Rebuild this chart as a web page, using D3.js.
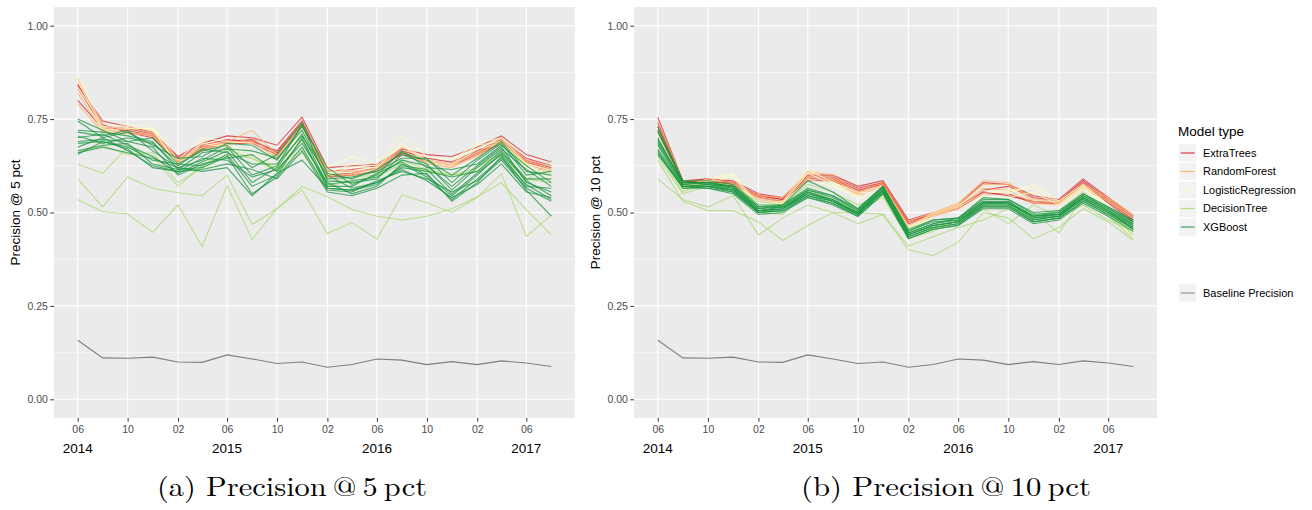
<!DOCTYPE html>
<html>
<head>
<meta charset="utf-8">
<script src="https://cdn.jsdelivr.net/npm/d3@7"></script>
<style>
  body { margin: 0; background: #fff; }
  svg text { font-family: "Liberation Sans", Arial, sans-serif; }
</style>
</head>
<body>
<script>
// evaluation months (one point every two months)
const months = ["2014-06","2014-08","2014-10","2014-12","2015-02","2015-04","2015-06","2015-08","2015-10","2015-12",
                "2016-02","2016-04","2016-06","2016-08","2016-10","2016-12","2017-02","2017-04","2017-06","2017-08"];
const tickMonths = ["2014-06","2014-10","2015-02","2015-06","2015-10","2016-02","2016-06","2016-10","2017-02","2017-06"];
const yearLabels = ["2014","2015","2016","2017"];
const yTicks = [0, 0.25, 0.5, 0.75, 1];
const yMinor = [0.125, 0.375, 0.625, 0.875];

const modelTypes = ["ExtraTrees","RandomForest","LogisticRegression","DecisionTree","XGBoost"];
const modelColours = ["#d7191c","#fdae61","#ffffbf","#a6d96a","#1a9641"];

const baseline = [0.158,0.111,0.110,0.113,0.100,0.099,0.119,0.108,0.096,0.100,0.086,0.093,0.108,0.105,0.093,0.101,0.093,0.103,0.097,0.088];

// Precision @ 5 pct
const p5ExtraTrees = [
  [0.84,0.745,0.73,0.715,0.65,0.685,0.705,0.70,0.68,0.755,0.62,0.625,0.63,0.67,0.655,0.65,0.675,0.705,0.655,0.635],
  [0.83,0.73,0.725,0.71,0.645,0.68,0.695,0.69,0.665,0.745,0.61,0.615,0.625,0.665,0.645,0.635,0.665,0.695,0.645,0.625],
  [0.80,0.725,0.72,0.705,0.64,0.675,0.69,0.695,0.66,0.74,0.60,0.605,0.62,0.655,0.64,0.63,0.66,0.69,0.64,0.62],
  [0.845,0.735,0.715,0.70,0.635,0.67,0.685,0.685,0.655,0.735,0.595,0.60,0.61,0.66,0.635,0.625,0.655,0.685,0.635,0.615]
];
const p5RandomForest = [
  [0.86,0.72,0.725,0.715,0.635,0.675,0.69,0.72,0.655,0.74,0.61,0.61,0.615,0.675,0.64,0.63,0.66,0.70,0.64,0.625],
  [0.79,0.715,0.71,0.71,0.63,0.665,0.68,0.70,0.65,0.735,0.60,0.60,0.61,0.665,0.63,0.62,0.655,0.69,0.63,0.61],
  [0.82,0.72,0.715,0.705,0.64,0.67,0.685,0.69,0.645,0.73,0.595,0.605,0.62,0.66,0.635,0.625,0.65,0.695,0.635,0.60]
];
const p5LogisticRegression = [
  [0.865,0.73,0.735,0.73,0.64,0.70,0.69,0.685,0.62,0.72,0.62,0.65,0.63,0.705,0.65,0.64,0.685,0.70,0.63,0.615],
  [0.85,0.725,0.73,0.72,0.63,0.69,0.68,0.66,0.615,0.70,0.605,0.63,0.625,0.685,0.64,0.63,0.68,0.69,0.625,0.60],
  [0.83,0.72,0.725,0.725,0.625,0.685,0.675,0.645,0.61,0.69,0.60,0.62,0.62,0.68,0.635,0.625,0.67,0.685,0.62,0.59]
];
const p5DecisionTree = [
  [0.63,0.605,0.675,0.65,0.57,0.625,0.67,0.645,0.61,0.66,0.58,0.595,0.60,0.64,0.615,0.60,0.62,0.66,0.59,0.58],
  [0.59,0.515,0.595,0.565,0.553,0.545,0.60,0.468,0.51,0.57,0.542,0.508,0.49,0.48,0.49,0.51,0.542,0.58,0.507,0.44],
  [0.535,0.502,0.496,0.447,0.52,0.409,0.572,0.428,0.511,0.56,0.444,0.473,0.429,0.547,0.526,0.50,0.54,0.604,0.436,0.493],
  [0.66,0.68,0.655,0.66,0.58,0.62,0.655,0.645,0.62,0.67,0.57,0.585,0.595,0.63,0.61,0.60,0.61,0.655,0.585,0.64]
];
const p5XGBoost = [
  [0.75,0.72,0.69,0.70,0.63,0.665,0.68,0.62,0.655,0.74,0.605,0.59,0.615,0.66,0.64,0.60,0.645,0.69,0.61,0.60],
  [0.745,0.70,0.715,0.68,0.645,0.65,0.685,0.68,0.64,0.73,0.62,0.575,0.60,0.665,0.62,0.615,0.63,0.68,0.625,0.58],
  [0.72,0.715,0.705,0.69,0.615,0.66,0.67,0.665,0.645,0.72,0.59,0.595,0.61,0.645,0.645,0.58,0.64,0.685,0.60,0.61],
  [0.715,0.705,0.72,0.665,0.62,0.64,0.675,0.60,0.625,0.735,0.585,0.58,0.59,0.655,0.63,0.56,0.62,0.67,0.615,0.57],
  [0.705,0.685,0.70,0.685,0.625,0.67,0.66,0.63,0.63,0.705,0.60,0.565,0.58,0.62,0.61,0.595,0.61,0.665,0.59,0.59],
  [0.70,0.71,0.68,0.65,0.605,0.635,0.665,0.58,0.62,0.71,0.575,0.585,0.595,0.64,0.625,0.57,0.625,0.675,0.58,0.555],
  [0.69,0.695,0.69,0.675,0.60,0.63,0.645,0.655,0.61,0.695,0.57,0.57,0.605,0.635,0.60,0.545,0.60,0.66,0.585,0.545],
  [0.685,0.69,0.675,0.64,0.63,0.625,0.655,0.57,0.60,0.70,0.565,0.56,0.575,0.625,0.615,0.55,0.605,0.655,0.57,0.565],
  [0.675,0.70,0.665,0.625,0.61,0.645,0.64,0.595,0.615,0.685,0.58,0.55,0.57,0.63,0.595,0.535,0.59,0.645,0.575,0.535],
  [0.665,0.68,0.685,0.63,0.615,0.62,0.65,0.55,0.595,0.675,0.56,0.555,0.585,0.61,0.59,0.555,0.585,0.64,0.565,0.53],
  [0.655,0.69,0.67,0.62,0.61,0.615,0.63,0.615,0.59,0.665,0.555,0.545,0.565,0.60,0.605,0.53,0.58,0.65,0.56,0.49],
  [0.66,0.675,0.66,0.645,0.62,0.61,0.62,0.545,0.605,0.64,0.565,0.56,0.58,0.615,0.585,0.54,0.575,0.63,0.555,0.54]
];

// Precision @ 10 pct
const p10ExtraTrees = [
  [0.755,0.585,0.59,0.585,0.55,0.54,0.60,0.60,0.57,0.585,0.48,0.50,0.52,0.58,0.575,0.545,0.535,0.59,0.54,0.49],
  [0.73,0.58,0.59,0.58,0.545,0.535,0.595,0.595,0.565,0.58,0.475,0.495,0.515,0.56,0.57,0.54,0.53,0.585,0.535,0.485],
  [0.72,0.58,0.585,0.575,0.54,0.53,0.59,0.59,0.56,0.575,0.47,0.49,0.51,0.555,0.545,0.53,0.525,0.58,0.53,0.48],
  [0.74,0.585,0.58,0.58,0.545,0.535,0.585,0.585,0.555,0.58,0.475,0.495,0.51,0.55,0.55,0.525,0.525,0.575,0.525,0.475]
];
const p10RandomForest = [
  [0.745,0.585,0.585,0.58,0.545,0.54,0.61,0.60,0.555,0.58,0.475,0.50,0.525,0.585,0.58,0.535,0.53,0.575,0.54,0.495],
  [0.715,0.575,0.58,0.575,0.54,0.53,0.605,0.59,0.55,0.575,0.465,0.495,0.52,0.575,0.575,0.53,0.525,0.57,0.535,0.49],
  [0.70,0.575,0.575,0.57,0.535,0.525,0.595,0.585,0.545,0.57,0.46,0.49,0.515,0.565,0.56,0.525,0.52,0.565,0.53,0.485]
];
const p10LogisticRegression = [
  [0.70,0.57,0.59,0.605,0.52,0.53,0.615,0.58,0.555,0.55,0.46,0.50,0.52,0.56,0.55,0.575,0.53,0.575,0.52,0.45],
  [0.68,0.565,0.585,0.60,0.515,0.525,0.605,0.575,0.545,0.545,0.455,0.495,0.515,0.55,0.56,0.565,0.525,0.57,0.51,0.44],
  [0.665,0.56,0.58,0.595,0.51,0.515,0.59,0.57,0.54,0.535,0.45,0.49,0.51,0.545,0.54,0.555,0.52,0.565,0.505,0.43]
];
const p10DecisionTree = [
  [0.59,0.535,0.515,0.545,0.44,0.485,0.52,0.50,0.50,0.495,0.40,0.385,0.42,0.50,0.485,0.43,0.46,0.51,0.475,0.425],
  [0.64,0.53,0.505,0.505,0.475,0.425,0.465,0.50,0.47,0.495,0.41,0.435,0.46,0.48,0.51,0.50,0.445,0.54,0.49,0.43],
  [0.66,0.555,0.58,0.57,0.50,0.495,0.56,0.535,0.505,0.54,0.43,0.45,0.48,0.51,0.47,0.52,0.49,0.52,0.48,0.45],
  [0.65,0.55,0.57,0.565,0.53,0.52,0.575,0.555,0.52,0.55,0.445,0.46,0.475,0.52,0.52,0.49,0.505,0.555,0.50,0.44]
];
const p10XGBoost = [
  [0.73,0.585,0.585,0.575,0.52,0.52,0.565,0.545,0.51,0.57,0.455,0.48,0.485,0.535,0.535,0.495,0.50,0.55,0.515,0.48],
  [0.72,0.58,0.58,0.57,0.515,0.515,0.56,0.54,0.505,0.565,0.45,0.475,0.48,0.53,0.53,0.49,0.50,0.545,0.51,0.475],
  [0.715,0.585,0.575,0.57,0.51,0.52,0.56,0.545,0.505,0.57,0.445,0.47,0.485,0.53,0.525,0.49,0.495,0.545,0.51,0.47],
  [0.70,0.575,0.58,0.565,0.51,0.515,0.555,0.535,0.50,0.565,0.445,0.47,0.48,0.525,0.53,0.485,0.495,0.54,0.505,0.47],
  [0.69,0.58,0.575,0.565,0.505,0.51,0.555,0.53,0.50,0.56,0.44,0.465,0.475,0.525,0.525,0.485,0.49,0.54,0.505,0.465],
  [0.685,0.575,0.57,0.56,0.505,0.515,0.55,0.535,0.495,0.56,0.44,0.465,0.475,0.52,0.52,0.48,0.49,0.535,0.50,0.465],
  [0.68,0.57,0.575,0.56,0.50,0.51,0.55,0.53,0.495,0.555,0.435,0.46,0.47,0.52,0.52,0.48,0.49,0.535,0.50,0.46],
  [0.67,0.57,0.57,0.555,0.50,0.505,0.545,0.525,0.495,0.555,0.435,0.46,0.47,0.515,0.515,0.475,0.485,0.53,0.495,0.46],
  [0.665,0.565,0.57,0.56,0.505,0.51,0.545,0.53,0.50,0.56,0.44,0.465,0.475,0.525,0.525,0.49,0.495,0.54,0.505,0.455],
  [0.655,0.57,0.565,0.555,0.50,0.505,0.54,0.525,0.49,0.55,0.43,0.455,0.465,0.515,0.515,0.475,0.485,0.53,0.495,0.455],
  [0.695,0.58,0.58,0.57,0.515,0.52,0.585,0.555,0.51,0.57,0.45,0.48,0.485,0.54,0.535,0.50,0.505,0.55,0.515,0.475],
  [0.66,0.565,0.565,0.55,0.495,0.50,0.54,0.52,0.49,0.55,0.43,0.455,0.465,0.51,0.51,0.47,0.48,0.525,0.49,0.45]
];

const width = 1312, height = 510;
const panelTop = 7, panelBottom = 418;

const parseMonth = d3.timeParse("%Y-%m");
const dates = months.map(parseMonth);
const tickDates = tickMonths.map(parseMonth);

const colour = d3.scaleOrdinal().domain(modelTypes).range(modelColours);

const svg = d3.select("body").append("svg")
    .attr("width", width)
    .attr("height", height);

const panels = [
  { left: 54, right: 575, yTitle: "Precision @ 5 pct", caption: "(a) Precision\u2009@\u20095\u2009pct", capX: 157, capW: 270,
    series: [p5ExtraTrees, p5RandomForest, p5LogisticRegression, p5DecisionTree, p5XGBoost] },
  { left: 634, right: 1157, yTitle: "Precision @ 10 pct", caption: "(b) Precision\u2009@\u200910\u2009pct", capX: 801, capW: 290,
    series: [p10ExtraTrees, p10RandomForest, p10LogisticRegression, p10DecisionTree, p10XGBoost] }
];

panels.forEach(drawPanel);
drawLegend();

function drawPanel(p) {
    // ggplot-style 5% expansion of the date range
    const span = dates[dates.length - 1] - dates[0];
    const x = d3.scaleTime()
        .domain([new Date(+dates[0] - span * 0.05), new Date(+dates[dates.length - 1] + span * 0.05)])
        .range([p.left, p.right]);
    const y = d3.scaleLinear()
        .domain([-0.05, 1.05])
        .range([panelBottom, panelTop]);

    const g = svg.append("g");

    g.append("rect")
        .attr("x", p.left).attr("y", panelTop)
        .attr("width", p.right - p.left).attr("height", panelBottom - panelTop)
        .attr("fill", "#ebebeb");

    // grid
    g.append("g").selectAll("line").data(yMinor).join("line")
        .attr("x1", p.left).attr("x2", p.right)
        .attr("y1", d => y(d)).attr("y2", d => y(d))
        .attr("stroke", "#fff").attr("stroke-width", 0.55);
    g.append("g").selectAll("line").data(yTicks).join("line")
        .attr("x1", p.left).attr("x2", p.right)
        .attr("y1", d => y(d)).attr("y2", d => y(d))
        .attr("stroke", "#fff").attr("stroke-width", 1.1);
    g.append("g").selectAll("line").data(tickDates).join("line")
        .attr("x1", d => x(d)).attr("x2", d => x(d))
        .attr("y1", panelTop).attr("y2", panelBottom)
        .attr("stroke", "#fff").attr("stroke-width", 1.1);

    const line = d3.line()
        .x((d, i) => x(dates[i]))
        .y(d => y(d));

    // model lines
    p.series.forEach((lines, k) => {
        g.append("g")
            .attr("fill", "none")
            .attr("stroke", colour(modelTypes[k]))
            .attr("stroke-opacity", k === 4 ? 0.78 : 0.72)
            .attr("stroke-width", 1.1)
            .selectAll("path")
            .data(lines)
            .join("path")
            .attr("d", line);
    });

    g.append("path")
        .datum(baseline)
        .attr("fill", "none")
        .attr("stroke", "#7f7f7f")
        .attr("stroke-width", 1.1)
        .attr("d", line);

    // axes
    g.append("g")
        .attr("transform", `translate(0,${panelBottom})`)
        .call(d3.axisBottom(x).tickValues(tickDates).tickFormat(d3.timeFormat("%m")).tickSize(3.7).tickPadding(3.5))
        .call(a => a.select(".domain").remove())
        .call(a => a.selectAll(".tick line").attr("stroke", "#333"))
        .call(a => a.selectAll("text").attr("fill", "#4d4d4d").style("font-size", "10.5px"));

    g.append("g")
        .attr("transform", `translate(${p.left},0)`)
        .call(d3.axisLeft(y).tickValues(yTicks).tickFormat(d3.format(".2f")).tickSize(3.7).tickPadding(2.5))
        .call(a => a.select(".domain").remove())
        .call(a => a.selectAll(".tick line").attr("stroke", "#333"))
        .call(a => a.selectAll("text").attr("fill", "#4d4d4d").style("font-size", "10.5px"));

    // year labels under the June ticks
    g.append("g").selectAll("text").data(yearLabels).join("text")
        .attr("x", d => x(parseMonth(d + "-06")))
        .attr("y", 452.5)
        .attr("text-anchor", "middle")
        .style("font-size", "13.5px")
        .attr("fill", "#000")
        .text(d => d);

    g.append("text")
        .attr("transform", `translate(${p.left - 34},${(panelTop + panelBottom) / 2}) rotate(-90)`)
        .attr("text-anchor", "middle")
        .style("font-size", "13.5px")
        .attr("fill", "#000")
        .text(p.yTitle);

    svg.append("text")
        .attr("x", p.capX)
        .attr("y", 496)
        .attr("textLength", p.capW)
        .attr("lengthAdjust", "spacingAndGlyphs")
        .style("font-family", "'Latin Modern Roman', 'Liberation Serif', serif")
        .style("font-size", "27px")
        .attr("fill", "#000")
        .text(p.caption);
}

function drawLegend() {
    const lg = svg.append("g").attr("transform", "translate(1179,0)");
    lg.append("text")
        .attr("x", -1).attr("y", 136)
        .style("font-size", "13.5px")
        .text("Model type");

    const rows = modelTypes.map((m, i) => ({ label: m, colour: colour(m), y: 153 + i * 18.5 }));
    rows.push({ label: "Baseline Precision", colour: "#7f7f7f", y: 293 });

    const item = lg.selectAll("g.key").data(rows).join("g")
        .attr("class", "key")
        .attr("transform", d => `translate(0,${d.y})`);
    item.append("rect")
        .attr("x", 0).attr("y", -8.6).attr("width", 17.3).attr("height", 17.3)
        .attr("fill", "#f2f2f2");
    item.append("line")
        .attr("x1", 1.7).attr("x2", 15.6).attr("y1", 0).attr("y2", 0)
        .attr("stroke", d => d.colour)
        .attr("stroke-opacity", 0.85)
        .attr("stroke-width", 1.2);
    item.append("text")
        .attr("x", 24).attr("y", 0).attr("dy", "0.35em")
        .style("font-size", "11px")
        .text(d => d.label);
}
</script>
</body>
</html>
